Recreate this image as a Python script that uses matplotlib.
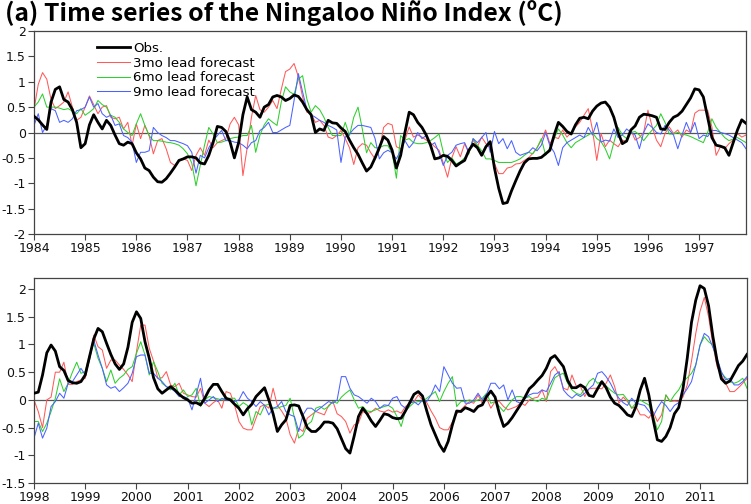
import numpy as np
import matplotlib
matplotlib.use("Agg")
import matplotlib.pyplot as plt

plt.rcParams['font.family'] = ['DejaVu Sans']

# ---------------- Panel 1 data (Jan 1984 - Dec 1997, monthly) ----------------
start1 = 1984
obs_1 = [
    0.32, 0.25, 0.15, 0.06, 0.6, 0.85, 0.9, 0.65, 0.6, 0.45, 0.2, -0.3,
    -0.22, 0.15, 0.35, 0.2, 0.07, 0.24, 0.14, -0.05, -0.22, -0.25, -0.19, -0.22,
    -0.4, -0.52, -0.7, -0.75, -0.88, -0.97, -0.98, -0.91, -0.8, -0.68, -0.55, -0.52,
    -0.48, -0.48, -0.5, -0.6, -0.62, -0.45, -0.2, 0.12, 0.1, 0.02, -0.19, -0.5,
    -0.2, 0.35, 0.7, 0.45, 0.4, 0.3, 0.5, 0.55, 0.7, 0.73, 0.7, 0.63,
    0.67, 0.74, 0.71, 0.6, 0.45, 0.35, 0.0, 0.07, 0.04, 0.24, 0.19, 0.18,
    0.09, 0.02, -0.15, -0.3, -0.43, -0.6, -0.76, -0.68, -0.5, -0.3, -0.08, -0.15,
    -0.35, -0.7, -0.45, 0.0, 0.4, 0.35, 0.2, 0.1, -0.05, -0.25, -0.52, -0.5,
    -0.45, -0.47, -0.55, -0.66, -0.6, -0.55, -0.35, -0.23, -0.3, -0.45, -0.28, -0.18,
    -0.7, -1.1, -1.4, -1.38, -1.15, -0.95, -0.76, -0.6, -0.52, -0.51, -0.51, -0.49,
    -0.42, -0.35, -0.05, 0.2, 0.12, 0.02, -0.03, 0.15, 0.28, 0.3, 0.27, 0.42,
    0.52, 0.58, 0.6, 0.5, 0.3, 0.0, -0.22, -0.17, 0.05, 0.13, 0.3, 0.36,
    0.35, 0.33, 0.3, 0.07, 0.06, 0.2, 0.3, 0.34, 0.42, 0.55, 0.68, 0.86,
    0.84, 0.7, 0.3, -0.1, -0.25, -0.27, -0.3, -0.45, -0.2, 0.05, 0.25, 0.18,
]
lead3_1 = [
    0.45, 0.95, 1.18, 1.05, 0.65, 0.47, 0.53, 0.6, 0.8, 0.5, 0.24, 0.3,
    0.5, 0.72, 0.55, 0.37, 0.5, 0.53, 0.3, 0.27, 0.3, 0.07, 0.2, -0.26,
    0.17, -0.12, 0.14, -0.06, -0.42, -0.16, -0.12, -0.32, -0.59, -0.65, -0.55, -0.52,
    -0.55, -0.75, -0.45, -0.3, -0.45, -0.15, -0.3, -0.2, -0.16, -0.12, 0.17, 0.3,
    0.15, -0.85, -0.3, 0.3, 0.73, 0.45, 0.4, 0.5, 0.63, 0.47, 0.85, 1.2,
    1.25, 1.36, 1.1, 0.7, 0.4, 0.37, 0.2, 0.24, 0.14, -0.09, -0.12, -0.06,
    0.04, -0.12, -0.3, -0.63, -0.3, -0.22, -0.25, -0.4, -0.52, -0.35, 0.1, 0.18,
    0.15, -0.28, -0.32, -0.15, 0.11, -0.09, -0.05, -0.09, -0.15, -0.2, -0.28, -0.35,
    -0.6, -0.88, -0.5, -0.28, -0.48, -0.22, -0.41, -0.15, -0.28, -0.09, -0.22, -0.3,
    -0.61, -0.81, -0.81, -0.7, -0.68, -0.62, -0.61, -0.55, -0.5, -0.41, -0.3, -0.15,
    0.05, -0.22, -0.09, -0.12, 0.05, -0.09, 0.0, 0.11, 0.2, 0.34, 0.47, 0.05,
    -0.55, -0.02, -0.28, -0.15, -0.22, -0.28, -0.15, -0.18, 0.05, -0.15, -0.1, 0.0,
    0.44, 0.11, -0.15, -0.28, -0.02, 0.11, -0.02, 0.05, -0.09, 0.05, 0.0, 0.38,
    0.44, 0.44, 0.44, 0.11, -0.45, -0.28, -0.32, -0.22, -0.15, -0.02, -0.09, -0.05,
]
lead6_1 = [
    0.5, 0.6, 0.76, 0.5, 0.5, 0.5, 0.48, 0.45, 0.47, 0.42, 0.37, 0.47,
    0.34, 0.4, 0.47, 0.63, 0.55, 0.5, 0.34, 0.3, 0.2, 0.07, 0.0, -0.06,
    0.17, 0.37, 0.14, -0.06, -0.16, -0.16, -0.17, -0.19, -0.2, -0.22, -0.25, -0.32,
    -0.42, -0.6, -1.05, -0.65, -0.25, 0.1, -0.03, -0.2, -0.19, -0.16, -0.12, -0.1,
    -0.09, -0.06, -0.06, 0.14, -0.39, -0.05, 0.15, 0.27, 0.2, 0.14, 0.6, 0.9,
    0.8, 0.75, 1.05, 1.12, 0.66, 0.4, 0.53, 0.45, 0.3, 0.1, -0.06, -0.06,
    -0.06, 0.2, -0.06, 0.3, 0.5, 0.07, -0.4, -0.2, -0.3, -0.3, -0.26, -0.26,
    -0.4, -0.9, -0.06, -0.15, -0.12, -0.2, -0.22, -0.22, -0.2, -0.16, -0.1, -0.03,
    -0.39, -0.59, -0.5, -0.62, -0.58, -0.5, -0.42, -0.12, -0.25, -0.36, -0.52, -0.52,
    -0.55, -0.59, -0.59, -0.59, -0.59, -0.56, -0.52, -0.45, -0.39, -0.42, -0.3, -0.12,
    -0.45, -0.3, -0.12, 0.07, -0.05, -0.2, -0.3, -0.2, -0.15, -0.1, -0.05, 0.0,
    -0.12, -0.18, -0.32, -0.52, -0.2, 0.1, -0.05, -0.12, 0.0, 0.02, -0.05, -0.16,
    -0.05, 0.05, 0.14, 0.37, 0.2, -0.03, -0.03, 0.0, -0.03, -0.05, -0.08, -0.12,
    -0.16, -0.2, 0.0, 0.27, 0.1, 0.0, -0.1, -0.16, -0.13, -0.1, -0.15, -0.2,
]
lead9_1 = [
    0.14, 0.37, 0.0, 0.14, 0.47, 0.43, 0.2, 0.24, 0.2, 0.27, 0.43, 0.45,
    0.5, 0.7, 0.5, 0.57, 0.37, 0.3, 0.34, 0.14, 0.17, -0.06, -0.1, -0.19,
    -0.59, -0.39, -0.39, -0.36, 0.1, 0.0, -0.06, -0.1, -0.16, -0.16, -0.19, -0.22,
    -0.26, -0.39, -0.8, -0.45, -0.5, -0.3, -0.16, -0.06, 0.04, -0.16, -0.16, -0.19,
    -0.2, -0.25, -0.32, -0.2, -0.16, 0.04, 0.1, 0.2, 0.0, 0.0, 0.05, 0.1,
    0.14, 0.63, 1.16, 0.8, 0.45, 0.35, 0.3, 0.24, 0.2, 0.14, 0.1, 0.05,
    -0.59, -0.09, -0.03, 0.07, 0.14, 0.14, 0.12, 0.1, -0.12, -0.52, -0.4, -0.35,
    -0.4, -0.52, -0.35, -0.16, -0.3, -0.2, 0.0, -0.12, -0.06, -0.26, -0.2, -0.4,
    -0.65, -0.45, -0.39, -0.25, -0.22, -0.2, -0.39, -0.12, -0.2, -0.1, 0.0, -0.39,
    0.02, -0.22, -0.12, -0.32, -0.16, -0.39, -0.45, -0.42, -0.39, -0.3, -0.36, -0.25,
    0.0, -0.26, -0.39, -0.65, -0.3, -0.2, -0.15, -0.1, -0.05, -0.1, 0.1, -0.05,
    0.2, -0.19, -0.15, -0.17, 0.07, -0.1, -0.05, 0.07, 0.0, -0.05, -0.32, 0.0,
    0.17, 0.1, 0.0, -0.03, 0.14, 0.05, -0.05, -0.32, -0.05, 0.2, 0.0, 0.2,
    -0.12, -0.05, -0.08, 0.04, 0.04, 0.0, -0.02, -0.05, -0.1, -0.15, -0.2, -0.32,
]

# ---------------- Panel 2 data (Jan 1998 - Dec 2011, monthly) ----------------
start2 = 1998
obs_2 = [
    0.12, 0.14, 0.45, 0.85, 0.99, 0.88, 0.6, 0.53, 0.35, 0.31, 0.3, 0.33,
    0.45, 0.78, 1.1, 1.29, 1.23, 1.02, 0.82, 0.65, 0.55, 0.65, 0.95, 1.4,
    1.59, 1.47, 1.05, 0.75, 0.4, 0.2, 0.12, 0.18, 0.24, 0.18, 0.1, 0.04,
    0.0, -0.06, -0.05, -0.09, 0.03, 0.18, 0.28, 0.28, 0.15, 0.03, 0.0, -0.08,
    -0.15, -0.27, -0.16, -0.08, 0.06, 0.14, 0.22, 0.0, -0.25, -0.57, -0.45, -0.36,
    -0.1, -0.09, -0.11, -0.3, -0.5, -0.57, -0.57, -0.5, -0.4, -0.4, -0.42, -0.52,
    -0.7, -0.88, -0.96, -0.65, -0.3, -0.15, -0.25, -0.38, -0.48, -0.37, -0.25, -0.27,
    -0.32, -0.34, -0.33, -0.2, -0.05, 0.1, 0.15, 0.07, -0.2, -0.45, -0.63, -0.81,
    -0.93, -0.75, -0.45, -0.2, -0.21, -0.14, -0.17, -0.21, -0.12, -0.09, 0.06, 0.16,
    0.05, -0.25, -0.48, -0.42, -0.32, -0.2, -0.08, 0.05, 0.2, 0.27, 0.36, 0.44,
    0.57, 0.75, 0.8, 0.7, 0.6, 0.35, 0.22, 0.22, 0.27, 0.22, 0.08, 0.06,
    0.2, 0.33, 0.22, 0.05, -0.06, -0.1, -0.18, -0.27, -0.3, -0.12, 0.18, 0.39,
    0.09, -0.35, -0.72, -0.75, -0.66, -0.5, -0.25, -0.14, 0.2, 0.75, 1.4, 1.8,
    2.06, 2.01, 1.7, 1.15, 0.7, 0.38, 0.3, 0.34, 0.48, 0.62, 0.7, 0.82,
]
lead3_2 = [
    0.0, -0.21, -0.5, 0.0, 0.05, 0.5, 0.5, 0.68, 0.28, 0.28, 0.33, 0.36,
    0.39, 0.75, 1.17, 0.96, 0.9, 0.57, 0.72, 0.72, 0.63, 0.55, 0.45, 0.33,
    0.87, 1.35, 1.35, 0.93, 0.7, 0.39, 0.4, 0.51, 0.27, 0.24, 0.3, 0.12,
    0.09, 0.06, 0.05, 0.21, -0.06, -0.12, -0.05, 0.0, -0.15, 0.15, 0.12, -0.1,
    -0.39, -0.51, -0.54, -0.54, -0.33, -0.12, -0.09, -0.15, 0.21, -0.1, -0.2, -0.33,
    -0.63, -0.78, -0.51, -0.57, -0.33, -0.27, -0.21, -0.24, -0.27, -0.1, -0.03, -0.25,
    -0.3, -0.39, -0.6, -0.45, -0.42, -0.21, -0.25, -0.22, -0.15, -0.2, -0.22, -0.18,
    -0.22, -0.2, -0.24, -0.12, -0.06, -0.03, 0.09, 0.0, -0.05, -0.2, -0.33, -0.5,
    -0.54, -0.54, -0.4, -0.25, -0.18, -0.1, -0.03, -0.06, 0.09, -0.06, 0.03, -0.15,
    -0.03, -0.03, -0.12, -0.18, -0.15, -0.12, -0.05, -0.1, 0.0, 0.03, 0.05, 0.18,
    -0.03, 0.51, 0.6, 0.45, 0.21, 0.18, 0.45, 0.25, 0.24, 0.06, 0.2, 0.21,
    0.21, 0.2, 0.3, 0.45, 0.24, -0.06, 0.05, -0.03, -0.15, -0.12, -0.27, -0.27,
    -0.33, -0.21, -0.39, -0.27, 0.09, -0.03, -0.02, -0.03, 0.05, 0.27, 0.7, 1.2,
    1.6, 1.85, 1.5, 1.0, 0.6, 0.45, 0.3, 0.15, 0.15, 0.22, 0.3, 0.39,
]
lead6_2 = [
    -0.39, -0.39, -0.57, -0.42, -0.21, 0.03, 0.38, 0.15, 0.3, 0.5, 0.68, 0.48,
    0.51, 0.81, 1.02, 0.75, 0.57, 0.33, 0.54, 0.3, 0.39, 0.45, 0.55, 0.6,
    0.84, 1.05, 0.81, 0.45, 0.69, 0.51, 0.3, 0.24, 0.18, 0.3, 0.09, 0.18,
    0.06, 0.09, 0.21, -0.12, 0.0, 0.06, 0.04, 0.02, 0.0, 0.02, 0.03, 0.03,
    -0.12, -0.05, -0.1, -0.45, -0.21, -0.27, -0.1, -0.08, -0.15, -0.15, -0.12, -0.1,
    0.03, -0.33, -0.69, -0.63, -0.45, -0.39, -0.15, -0.12, -0.17, -0.12, -0.03, -0.06,
    0.05, 0.12, 0.18, 0.0, -0.15, -0.12, -0.2, -0.21, -0.18, -0.15, -0.12, -0.1,
    -0.15, -0.3, -0.48, -0.2, -0.12, -0.05, -0.03, -0.03, 0.03, 0.09, 0.15, -0.03,
    0.15, 0.3, 0.42, -0.12, -0.03, -0.03, 0.0, -0.03, 0.0, 0.03, 0.12, -0.06,
    -0.03, -0.12, -0.21, -0.1, 0.0, 0.06, 0.06, 0.03, 0.06, 0.0, -0.03, 0.03,
    0.0, 0.21, 0.4, 0.45, 0.48, 0.3, 0.18, 0.12, 0.09, 0.2, 0.33, 0.39,
    0.3, 0.33, 0.25, 0.18, 0.12, 0.09, 0.1, 0.0, -0.15, -0.05, 0.0, -0.05,
    -0.09, -0.27, -0.54, -0.39, 0.09, -0.03, 0.09, 0.18, 0.33, 0.4, 0.48, 0.63,
    0.99, 1.14, 1.05, 0.99, 0.69, 0.48, 0.4, 0.33, 0.3, 0.33, 0.39, 0.21,
]
lead9_2 = [
    -0.69, -0.42, -0.69, -0.51, -0.12, -0.03, 0.12, 0.03, 0.3, 0.33, 0.45, 0.57,
    0.45, 0.72, 1.08, 0.81, 0.57, 0.27, 0.21, 0.24, 0.15, 0.22, 0.3, 0.48,
    0.78, 0.81, 0.81, 0.48, 0.48, 0.39, 0.33, 0.24, 0.21, 0.15, 0.06, 0.06,
    0.03, -0.18, 0.1, 0.39, -0.06, 0.0, 0.06, -0.03, 0.03, 0.0, 0.0, -0.03,
    0.0, 0.15, 0.03, -0.03, -0.12, -0.03, -0.1, -0.27, -0.15, -0.12, -0.03, -0.21,
    -0.27, -0.3, -0.57, -0.27, -0.15, -0.15, -0.21, -0.15, -0.09, -0.03, -0.06, 0.0,
    0.42, 0.42, 0.21, 0.09, 0.06, 0.0, -0.06, 0.03, -0.03, -0.15, -0.09, -0.1,
    0.03, 0.06, -0.09, -0.15, -0.06, -0.03, -0.09, 0.0, -0.03, 0.09, 0.27, 0.15,
    0.6, 0.45, 0.3, 0.21, 0.22, -0.06, -0.06, 0.0, 0.12, 0.0, 0.1, 0.3,
    0.3, 0.2, 0.27, 0.0, 0.18, -0.03, -0.06, 0.03, 0.09, 0.12, 0.12, 0.18,
    0.15, 0.3, 0.45, 0.51, 0.18, 0.09, 0.03, 0.1, 0.06, 0.12, 0.2, 0.27,
    0.48, 0.51, 0.42, 0.3, 0.15, 0.03, -0.05, -0.1, 0.03, -0.06, -0.08, -0.1,
    -0.2, -0.3, -0.15, -0.03, -0.1, -0.21, -0.1, -0.05, 0.09, 0.2, 0.33, 0.63,
    0.99, 1.2, 1.14, 0.95, 0.75, 0.51, 0.36, 0.39, 0.27, 0.27, 0.33, 0.42,
]

labels = ["Obs.", "3mo lead forecast", "6mo lead forecast", "9mo lead forecast"]
title = "(a) Time series of the Ningaloo Niño Index (ºC)"

c_obs, c3, c6, c9 = "black", "#ff5a5a", "#2fcf2f", "#4a63ff"
frame_col = "#444444"

W, H = 751, 504
fig = plt.figure(figsize=(W / 100, H / 100), dpi=100)

def fmt(v):
    return f"{v:g}"

def panel(rect, start, obs, f3, f6, f9, ylim, yticks, legend=False):
    ax = fig.add_axes(rect)
    n = len(obs)
    t = start + np.arange(n) / 12.0
    ax.axhline(0, color="#555555", lw=0.9, zorder=1)
    l3, = ax.plot(t, f3, color=c3, lw=0.75, zorder=2)
    l6, = ax.plot(t, f6, color=c6, lw=0.75, zorder=2)
    l9, = ax.plot(t, f9, color=c9, lw=0.75, zorder=2)
    lo, = ax.plot(t, obs, color=c_obs, lw=2.0, zorder=3)
    ax.set_xlim(start, start + (n - 1) / 12.0)
    ax.set_ylim(*ylim)
    years = np.arange(start, start + 14)
    ax.set_xticks(years)
    ax.set_xticklabels([str(y) for y in years])
    ax.set_yticks(yticks)
    ax.set_yticklabels([fmt(v) for v in yticks])
    ax.tick_params(direction="out", length=4, width=0.8, colors=frame_col,
                   labelcolor="#111111", labelsize=9, pad=2)
    for sp in ax.spines.values():
        sp.set_color(frame_col)
        sp.set_linewidth(0.9)
    if legend:
        ax.legend([lo, l3, l6, l9], labels, loc="upper left",
                  bbox_to_anchor=((97 - 34) / 712, (234 - 42) / 203),
                  frameon=False, fontsize=9.6, handlelength=2.45,
                  handletextpad=0.25, labelspacing=0.12,
                  borderpad=0, borderaxespad=0)
    return ax

ax1 = panel([34 / W, 1 - 234 / H, 712 / W, 203 / H], start1,
            obs_1, lead3_1, lead6_1, lead9_1, (-2, 2),
            np.arange(-2, 2.01, 0.5), legend=True)
ax2 = panel([34 / W, 1 - 483 / H, 713 / W, 205 / H], start2,
            obs_2, lead3_2, lead6_2, lead9_2, (-1.5, 2.2),
            np.arange(-1.5, 2.01, 0.5))

fig.text(5 / W, 1 - 21 / H, title, ha="left", va="baseline",
         fontsize=17.8, fontweight="bold", color="black",
         family=["Noto Sans CJK JP", "DejaVu Sans"])

fig.savefig("out.png", dpi=100)
